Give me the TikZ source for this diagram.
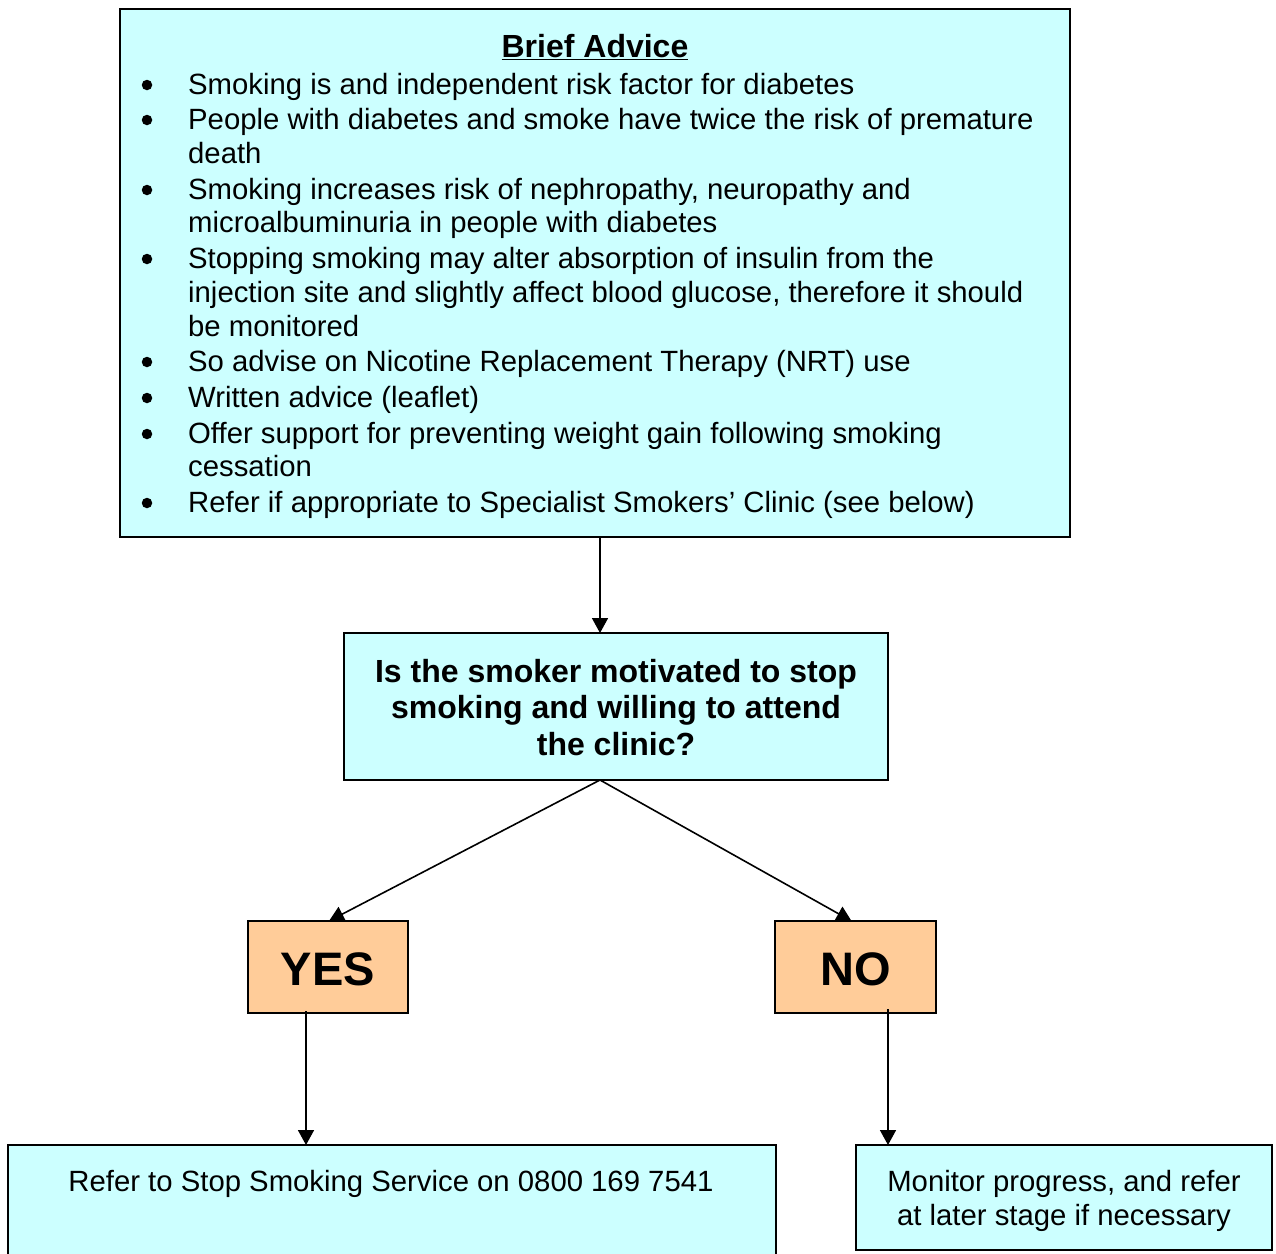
\documentclass[tikz,border=0pt]{standalone}
\usepackage{fontspec}
\setmainfont{Liberation Sans}
\usetikzlibrary{arrows.meta}
\definecolor{paleCyan}{HTML}{CCFFFF}
\definecolor{paleOrange}{HTML}{FFCC99}
\begin{document}
\begin{tikzpicture}[x=1pt,y=-1pt,
  box/.style={draw=black,line width=1.8pt,inner sep=0pt,outer sep=0pt},
  cyanbox/.style={box,fill=paleCyan},
  answer/.style={box,fill=paleOrange,font=\fontsize{47}{54}\selectfont\bfseries},
  body/.style={inner sep=0pt,font=\fontsize{29.3}{34}\selectfont},
  qline/.style={inner sep=0pt,font=\fontsize{32}{36}\selectfont\bfseries,anchor=base},
  arr/.style={line width=1.6pt,-{Triangle[width=16pt,length=15pt]}},
  dot/.style={circle,fill=black,inner sep=0pt,minimum size=10.5pt}]

\useasboundingbox (0,0) rectangle (1276,1253);
\fill[white] (0,0) rectangle (1276,1253);
\clip (0,0) rectangle (1276,1253);

% boxes
\node[cyanbox,minimum width=950pt,minimum height=528pt] (brief) at (595,273) {};
\node[cyanbox,minimum width=544pt,minimum height=147pt] (q) at (616,706.5) {};
\node[answer,minimum width=160pt,minimum height=92pt] (yes) at (328,967) {};
\node[answer,minimum width=161pt,minimum height=92pt] (no) at (855.5,967) {};
\node[cyanbox,minimum width=768pt,minimum height=160pt] (refer) at (392,1225) {};
\node[cyanbox,minimum width=416pt,minimum height=105pt] (monitor) at (1064,1197.5) {};

% brief advice text
\node[body,anchor=base,font=\fontsize{32}{36}\selectfont\bfseries] (title) at (595,57) {\underline{Brief Advice}};
\foreach \yy/\txt/\b in {
  94/Smoking is and independent risk factor for diabetes/1,
  129/People with diabetes and smoke have twice the risk of premature/1,
  163/death/0,
  199/{Smoking increases risk of nephropathy, neuropathy and}/1,
  232/microalbuminuria in people with diabetes/0,
  268/Stopping smoking may alter absorption of insulin from the/1,
  302/{injection site and slightly affect blood glucose, therefore it should}/0,
  336/be monitored/0,
  371/So advise on Nicotine Replacement Therapy (NRT) use/1,
  407/Written advice (leaflet)/1,
  443/Offer support for preventing weight gain following smoking/1,
  476/cessation/0,
  512/Refer if appropriate to Specialist Smokers’ Clinic (see below)/1}{
  \node[body,anchor=base west] at (188,\yy) {\txt};
  \ifnum\b=1 \node[dot] at (147,\yy-9) {};\fi
}

% question text
\node[qline] (q1) at (616,682) {Is the smoker motivated to stop};
\node[qline] (q2) at (616,718) {smoking and willing to attend};
\node[qline] (q3) at (616,755) {the clinic?};

% answers
\node[inner sep=0pt,anchor=base,font=\fontsize{47}{54}\selectfont\bfseries] at (328,985) {YES};
\node[inner sep=0pt,anchor=base,font=\fontsize{47}{54}\selectfont\bfseries] at (855.5,985) {NO};

% outcomes
\node[body,anchor=base] (r1) at (391,1191) {Refer to Stop Smoking Service on 0800 169 7541};
\node[body,anchor=base] (m1) at (1064,1191) {Monitor progress, and refer};
\node[body,anchor=base] (m2) at (1064,1225) {at later stage if necessary};

% connectors
\draw[arr] ([xshift=5pt]brief.south) -- ([xshift=5pt]brief.south |- q.north);
\draw[arr] ([xshift=-16pt]q.south) -- ([xshift=1pt]yes.north);
\draw[arr] ([xshift=-16pt]q.south) -- ([xshift=-4pt]no.north);
\draw[arr] ([xshift=-22pt,yshift=2pt]yes.south) -- ([xshift=-22pt]yes.south |- refer.north);
\draw[arr] ([xshift=32.5pt,yshift=4pt]no.south) -- ([xshift=32.5pt]no.south |- monitor.north);
\end{tikzpicture}
\end{document}
